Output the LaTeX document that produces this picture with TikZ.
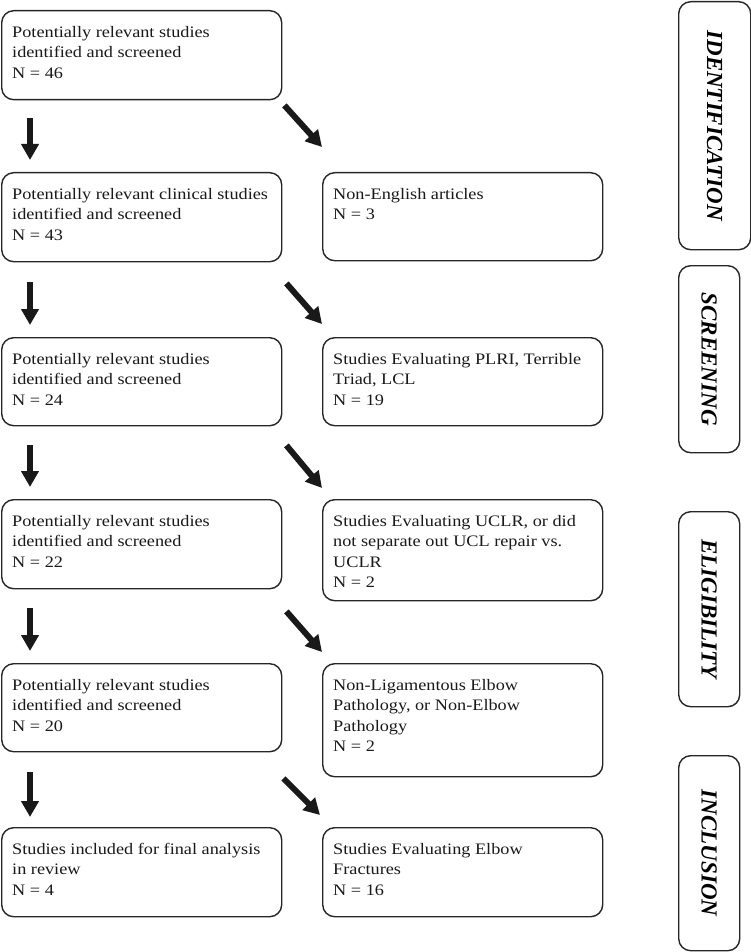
\documentclass[tikz,border=0pt]{standalone}
\usepackage{fontspec}
\setmainfont{Liberation Serif}[FakeStretch=1.14]
\newfontfamily\labfont{Liberation Serif}
\usetikzlibrary{arrows.meta}
\begin{document}
\begin{tikzpicture}[x=1pt,y=-1pt,
  box/.style={draw=black!85, line width=1.4pt, rounded corners=12pt, anchor=north west, inner sep=0pt},
  lbox/.style={box, minimum width=280pt},
  rbox/.style={box, minimum width=280pt},
  sbox/.style={box, minimum width=61pt},
  txt/.style={anchor=north west, inner sep=0pt, align=left, text=black!90, font=\fontsize{16}{20.5}\selectfont},
  labtxt/.style={font=\fontsize{23}{23}\labfont\bfseries\itshape},
  arr/.style={line width=6pt, draw=black!90, -{Triangle[width=17pt,length=16pt]}}
]
\useasboundingbox (0,0) rectangle (751,952);
% left column
\node[lbox, minimum height=89pt] (l1) at (1,10) {};
\node[lbox, minimum height=89pt] (l2) at (1,172) {};
\node[lbox, minimum height=88pt] (l3) at (1,337) {};
\node[lbox, minimum height=89pt] (l4) at (1,499) {};
\node[lbox, minimum height=88pt] (l5) at (1,663) {};
\node[lbox, minimum height=89pt] (l6) at (1,827) {};
% right column
\node[rbox, minimum height=88pt] (r2) at (322,172) {};
\node[rbox, minimum height=88pt] (r3) at (322,337) {};
\node[rbox, minimum height=101pt] (r4) at (322,499) {};
\node[rbox, minimum height=113pt] (r5) at (322,663) {};
\node[rbox, minimum height=89pt] (r6) at (322,827) {};
% texts
\node[txt] (tl1) at ([shift={(11,16)}]l1.north west) {Potentially relevant studies\\identified and screened\\N = 46};
\node[txt] (tl2) at ([shift={(11,16)}]l2.north west) {Potentially relevant clinical studies\\identified and screened\\N = 43};
\node[txt] (tl3) at ([shift={(11,16)}]l3.north west) {Potentially relevant studies\\identified and screened\\N = 24};
\node[txt] (tl4) at ([shift={(11,16)}]l4.north west) {Potentially relevant studies\\identified and screened\\N = 22};
\node[txt] (tl5) at ([shift={(11,16)}]l5.north west) {Potentially relevant studies\\identified and screened\\N = 20};
\node[txt] (tl6) at ([shift={(11,16)}]l6.north west) {Studies included for final analysis\\in review\\N = 4};
\node[txt] (tr2) at ([shift={(11,16)}]r2.north west) {Non-English articles\\N = 3};
\node[txt] (tr3) at ([shift={(11,16)}]r3.north west) {Studies Evaluating PLRI, Terrible\\Triad, LCL\\N = 19};
\node[txt] (tr4) at ([shift={(11,16)}]r4.north west) {Studies Evaluating UCLR, or did\\not separate out UCL repair vs.\\UCLR\\N = 2};
\node[txt] (tr5) at ([shift={(11,16)}]r5.north west) {Non-Ligamentous Elbow\\Pathology, or Non-Elbow\\Pathology\\N = 2};
\node[txt] (tr6) at ([shift={(11,16)}]r6.north west) {Studies Evaluating Elbow\\Fractures\\N = 16};
% side labels
\node[sbox, minimum width=72pt, minimum height=248pt] (s1) at (678,1) {\rotatebox{-90}{\fontsize{23}{23}\labfont\bfseries\itshape IDENTIFICATION}};
\node[sbox, minimum height=187pt] (s2) at (678,265) {\rotatebox{-90}{\fontsize{23}{23}\labfont\bfseries\itshape SCREENING}};
\node[sbox, minimum height=195pt] (s3) at (678,511) {\rotatebox{-90}{\fontsize{23}{23}\labfont\bfseries\itshape ELIGIBILITY}};
\node[sbox, minimum height=195pt] (s4) at (678,755) {\rotatebox{-90}{\fontsize{23}{23}\labfont\bfseries\itshape INCLUSION}};
% down arrows
\draw[arr] ([shift={(29,18)}]l1.south west) -- ([shift={(29,-12)}]l2.north west);
\draw[arr] ([shift={(29,20)}]l2.south west) -- ([shift={(29,-12)}]l3.north west);
\draw[arr] ([shift={(29,19)}]l3.south west) -- ([shift={(29,-12)}]l4.north west);
\draw[arr] ([shift={(29,19)}]l4.south west) -- ([shift={(29,-12)}]l5.north west);
\draw[arr] ([shift={(29,20)}]l5.south west) -- ([shift={(29,-10)}]l6.north west);
% diagonal arrows
\draw[arr] ([shift={(2,5)}]l1.south east) -- ([shift={(0,-25)}]r2.north west);
\draw[arr] ([shift={(4,21)}]l2.south east) -- ([shift={(0,-13)}]r3.north west);
\draw[arr] ([shift={(4,19)}]l3.south east) -- ([shift={(0,-11)}]r4.north west);
\draw[arr] ([shift={(4,22)}]l4.south east) -- ([shift={(0,-11)}]r5.north west);
\draw[arr] ([shift={(1,26)}]l5.south east) -- ([shift={(-2,-12)}]r6.north west);
\end{tikzpicture}
\end{document}
